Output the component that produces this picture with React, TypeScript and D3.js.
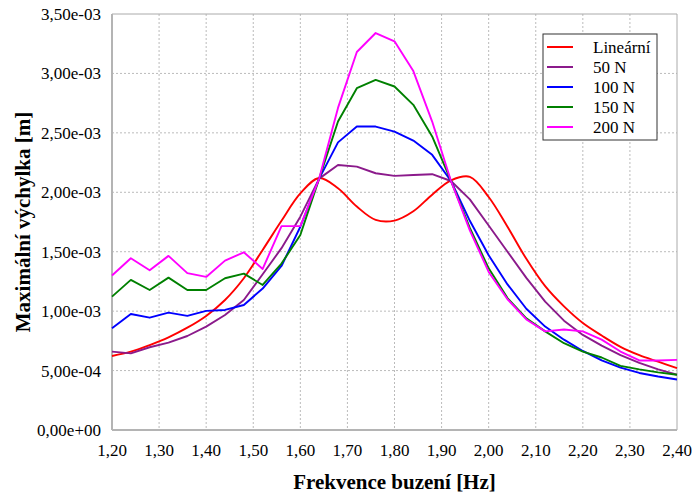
import React from 'react';
import * as d3 from 'd3';

// frequency samples [Hz]
const freq = [
  1.2, 1.24, 1.28, 1.32, 1.36, 1.4, 1.44, 1.48, 1.52, 1.56, 1.6, 1.64, 1.68, 1.72, 1.76, 1.8,
  1.84, 1.88, 1.92, 1.96, 2.0, 2.04, 2.08, 2.12, 2.16, 2.2, 2.24, 2.28, 2.32, 2.36, 2.4,
];

// max displacement, values in 1e-3 m
const linear = [
  0.623, 0.659, 0.715, 0.78, 0.861, 0.96, 1.094, 1.277, 1.515, 1.76, 1.99, 2.12, 2.034, 1.88, 1.768,
  1.762, 1.84, 1.98, 2.1, 2.13, 1.96, 1.71, 1.44, 1.21, 1.04, 0.9, 0.795, 0.7, 0.63, 0.575, 0.52,
];
const n50 = [
  0.659, 0.645, 0.696, 0.735, 0.791, 0.87, 0.968, 1.094, 1.31, 1.53, 1.795, 2.115, 2.23, 2.216,
  2.16, 2.138, 2.146, 2.152, 2.095, 1.94, 1.72, 1.5, 1.28, 1.08, 0.92, 0.8, 0.71, 0.63, 0.565, 0.51,
  0.465,
];
const n100 = [
  0.856, 0.976, 0.945, 0.988, 0.96, 1.002, 1.01, 1.052, 1.19, 1.38, 1.71, 2.115, 2.42, 2.553, 2.553,
  2.51, 2.435, 2.315, 2.095, 1.76, 1.47, 1.225, 1.02, 0.87, 0.76, 0.665, 0.585, 0.525, 0.48, 0.45,
  0.425,
];
const n150 = [
  1.122, 1.263, 1.178, 1.282, 1.178, 1.178, 1.277, 1.316, 1.22, 1.4, 1.64, 2.115, 2.595, 2.876,
  2.946, 2.89, 2.736, 2.47, 2.095, 1.7, 1.36, 1.11, 0.94, 0.83, 0.73, 0.66, 0.61, 0.54, 0.51, 0.485,
  0.465,
];
const n200 = [
  1.3, 1.445, 1.344, 1.465, 1.32, 1.288, 1.425, 1.495, 1.355, 1.715, 1.715, 2.115, 2.71, 3.18, 3.34,
  3.27, 3.02, 2.595, 2.095, 1.68, 1.33, 1.1, 0.93, 0.83, 0.845, 0.83, 0.76, 0.66, 0.585, 0.585, 0.59,
];

const seriesNames = ['Lineární', '50 N', '100 N', '150 N', '200 N'];
const seriesColors = ['#ff0000', '#8b1a8b', '#0000ff', '#008000', '#ff00ff'];
const seriesValues = [linear, n50, n100, n150, n200];

const xTicks = [1.2, 1.3, 1.4, 1.5, 1.6, 1.7, 1.8, 1.9, 2.0, 2.1, 2.2, 2.3, 2.4];
const yTicks = [0, 0.5, 1.0, 1.5, 2.0, 2.5, 3.0, 3.5];
const yTickLabels = [
  '0,00e+00', '5,00e-04', '1,00e-03', '1,50e-03', '2,00e-03', '2,50e-03', '3,00e-03', '3,50e-03',
];

const W = 693;
const H = 497;
const margin = { top: 14, right: 16, bottom: 67, left: 112 };
const font = "'Liberation Serif', 'Times New Roman', serif";
const txt = { fontFamily: font };

const App = () => {
  const x = d3.scaleLinear().domain([1.2, 2.4]).range([margin.left, W - margin.right]);
  const y = d3.scaleLinear().domain([0, 3.5]).range([H - margin.bottom, margin.top]);

  const makeLine = (vals: number[], smooth: boolean) =>
    d3
      .line<number>()
      .x((_, i) => x(freq[i]))
      .y((d) => y(d))
      .curve(smooth ? d3.curveCatmullRom : d3.curveLinear)(vals) || '';

  const x0 = margin.left;
  const x1 = W - margin.right;
  const y0 = H - margin.bottom;
  const y1 = margin.top;

  return (
    <svg
      width={W}
      height={H}
      style={{ position: 'absolute', left: 0, top: 0, background: '#fff' }}
    >
      {/* grid */}
      {xTicks.slice(1, -1).map((t) => (
        <line
          key={'gx' + t}
          x1={x(t)}
          x2={x(t)}
          y1={y1}
          y2={y0}
          stroke="#bbb"
          strokeDasharray="2,2"
        />
      ))}
      {yTicks.slice(1, -1).map((t) => (
        <line
          key={'gy' + t}
          x1={x0}
          x2={x1}
          y1={y(t)}
          y2={y(t)}
          stroke="#bbb"
          strokeDasharray="2,2"
        />
      ))}

      {/* frame */}
      <line x1={x0} x2={x1} y1={y1} y2={y1} stroke="#aaa" strokeWidth={1} />
      <line x1={x1} x2={x1} y1={y1} y2={y0} stroke="#aaa" strokeWidth={1} />
      <line x1={x0} x2={x0} y1={y1} y2={y0} stroke="#b4b4b4" strokeWidth={2} />
      <line x1={x0} x2={x1} y1={y0} y2={y0} stroke="#b4b4b4" strokeWidth={2} />

      {/* series */}
      {seriesValues.map((vals, i) => (
        <path
          key={seriesNames[i]}
          d={makeLine(vals, i === 0)}
          fill="none"
          stroke={seriesColors[i]}
          strokeWidth={1.9}
          strokeLinejoin="round"
        />
      ))}

      {/* x tick labels */}
      {xTicks.map((t) => (
        <text key={'xt' + t} x={x(t)} y={y0 + 26} textAnchor="middle" fontSize={17} style={txt}>
          {t.toFixed(2).replace('.', ',')}
        </text>
      ))}
      {/* y tick labels */}
      {yTicks.map((t, i) => (
        <text key={'yt' + t} x={x0 - 11} y={y(t) + 6} textAnchor="end" fontSize={17} style={txt}>
          {yTickLabels[i]}
        </text>
      ))}

      {/* axis titles */}
      <text
        x={(x0 + x1) / 2}
        y={H - 8}
        textAnchor="middle"
        fontSize={21}
        fontWeight="bold"
        style={txt}
      >
        Frekvence buzení [Hz]
      </text>
      <text
        transform={`translate(30,${(y0 + y1) / 2}) rotate(-90)`}
        textAnchor="middle"
        fontSize={21}
        fontWeight="bold"
        style={txt}
      >
        Maximální výchylka [m]
      </text>

      {/* legend */}
      <g transform="translate(543,34)">
        <rect x={0} y={0} width={114} height={106} fill="#fff" stroke="#333" strokeWidth={1} />
        {seriesNames.map((name, i) => (
          <g key={'lg' + name} transform={`translate(0,${13 + i * 20})`}>
            <line x1={4} x2={30} y1={0} y2={0} stroke={seriesColors[i]} strokeWidth={2} />
            <text x={50} y={6} fontSize={17} style={txt}>
              {name}
            </text>
          </g>
        ))}
      </g>
    </svg>
  );
};

export default App;
